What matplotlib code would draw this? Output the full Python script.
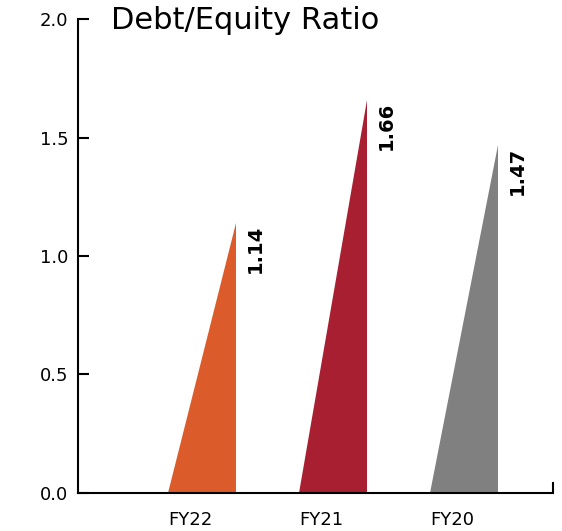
import numpy as np
import matplotlib.pyplot as plt
from matplotlib.patches import Polygon

categories = ['FY22', 'FY21', 'FY20']
ratios = [1.14, 1.66, 1.47]
colors = ['#DC5B2B', '#A81F31', '#808080']
yticks = [0.0, 0.5, 1.0, 1.5, 2.0]

plt.rcParams['font.family'] = ['DejaVu Sans']

fig = plt.figure(figsize=(5.62, 5.31), dpi=100)
ax = fig.add_axes([0.1388, 0.0716, 0.845, 0.8926])

w = 0.52
x = np.arange(len(categories))
for xi, v, c in zip(x, ratios, colors):
	# right triangle, vertical edge on the right
	tri = Polygon([(xi, 0), (xi + w, 0), (xi + w, v)], closed=True, facecolor=c, edgecolor='none')
	ax.add_patch(tri)
	ax.text(xi + w + 0.15, v - 0.01, '%.2f' % v, rotation=90, ha='center', va='top',
		fontsize=14, fontweight='bold', color='black')

ax.set_xlim(-0.687, 2.94)
ax.set_ylim(0, 2.0)
ax.set_yticks(yticks)
ax.set_yticklabels(['%.1f' % t for t in yticks], fontsize=13)
ax.set_xticks(x)
ax.set_xticklabels(categories, fontsize=13, ha='left')
ax.tick_params(axis='x', length=0, pad=13)
ax.tick_params(axis='y', direction='in', length=8, width=1.5, pad=7)
# end cap on the right of the x axis
ax.set_xticks([2.94], minor=True)
ax.tick_params(axis='x', which='minor', direction='in', length=8, width=1.5)

for s in ['top', 'right']:
	ax.spines[s].set_visible(False)
for s in ['left', 'bottom']:
	ax.spines[s].set_linewidth(1.5)

fig.text(0.197, 0.988, 'Debt/Equity Ratio', fontsize=22, ha='left', va='top')

fig.savefig('out.png', dpi=100)
